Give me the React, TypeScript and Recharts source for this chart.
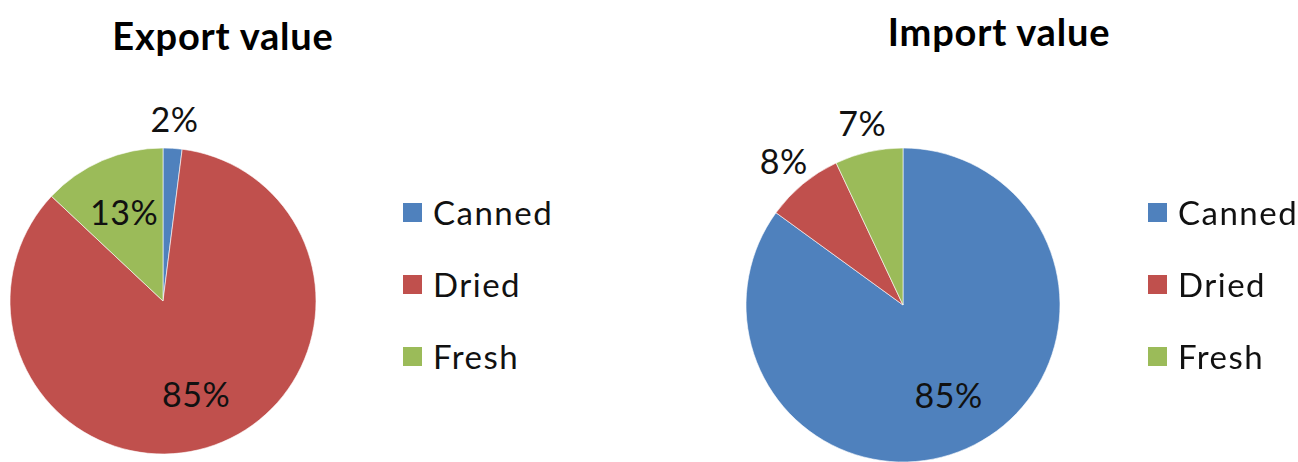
import React from 'react';
import { PieChart, Pie, Cell, Legend } from 'recharts';

const categories = ['Canned', 'Dried', 'Fresh'];
const exportShares = [2, 85, 13];
const importShares = [85, 8, 7];
const colors = ['#4F81BD', '#C0504D', '#9BBB59'];

const exportData = categories.map((name, i) => ({ name, value: exportShares[i] }));
const importData = categories.map((name, i) => ({ name, value: importShares[i] }));

const FONT = 'Lato, "Open Sans", sans-serif';
const RADIAN = Math.PI / 180;

// small slices get their label outside, the big ones inside like Excel does
const renderLabel = (props: any) => {
  const { cx, cy, midAngle, outerRadius, percent } = props;
  const outside = percent < 0.1;
  const r = outside ? outerRadius + 30 : outerRadius * 0.64;
  const x = cx + r * Math.cos(-midAngle * RADIAN);
  const y = cy + r * Math.sin(-midAngle * RADIAN);
  return (
    <text x={x} y={y} fill="#111" textAnchor="middle" dominantBaseline="central"
      fontFamily={FONT} fontSize={34} letterSpacing={0.5}>
      {Math.round(percent * 100)}%
    </text>
  );
};

const renderLegend = (props: any) => {
  const { payload } = props;
  return (
    <div>
      {(payload || []).map((entry: any) => (
        <div key={entry.value} style={{ display: 'flex', alignItems: 'center', height: 72 }}>
          <span style={{ display: 'inline-block', width: 19, height: 19, background: entry.color, marginRight: 11 }} />
          <span style={{ fontFamily: FONT, fontSize: 33, letterSpacing: 1.5, color: '#111' }}>{entry.value}</span>
        </div>
      ))}
    </div>
  );
};

function ValuePie({ title, data, cx, cy, r, titleX, titleY, legendX }: any) {
  return (
    <div style={{ position: 'relative', width: 649, height: 462 }}>
      <div style={{ position: 'absolute', left: titleX - 200, top: titleY, width: 400, textAlign: 'center',
        fontFamily: FONT, fontWeight: 700, fontSize: 38, letterSpacing: 0.8, color: '#000', lineHeight: '46px' }}>
        {title}
      </div>
      <PieChart width={649} height={462} margin={{ top: 0, right: 0, bottom: 0, left: 0 }}>
        <Pie data={data} dataKey="value" nameKey="name" cx={cx} cy={cy} outerRadius={r}
          startAngle={90} endAngle={-270} stroke="#fff" strokeWidth={0.6}
          label={renderLabel} labelLine={false} isAnimationActive={false}>
          {data.map((d: any, i: number) => (
            <Cell key={d.name} fill={colors[i]} />
          ))}
        </Pie>
        <Legend layout="vertical" content={renderLegend}
          wrapperStyle={{ position: 'absolute', left: legendX, top: 176, width: 200 }} />
      </PieChart>
    </div>
  );
}

export default function App() {
  return (
    <div style={{ position: 'fixed', left: 0, top: 0, width: 1298, height: 462, background: '#fff', display: 'flex' }}>
      <ValuePie title="Export value" data={exportData} cx={163} cy={301} r={153} titleX={223} titleY={12} legendX={403} />
      <ValuePie title="Import value" data={importData} cx={254} cy={305} r={157} titleX={350} titleY={8} legendX={499} />
    </div>
  );
}
